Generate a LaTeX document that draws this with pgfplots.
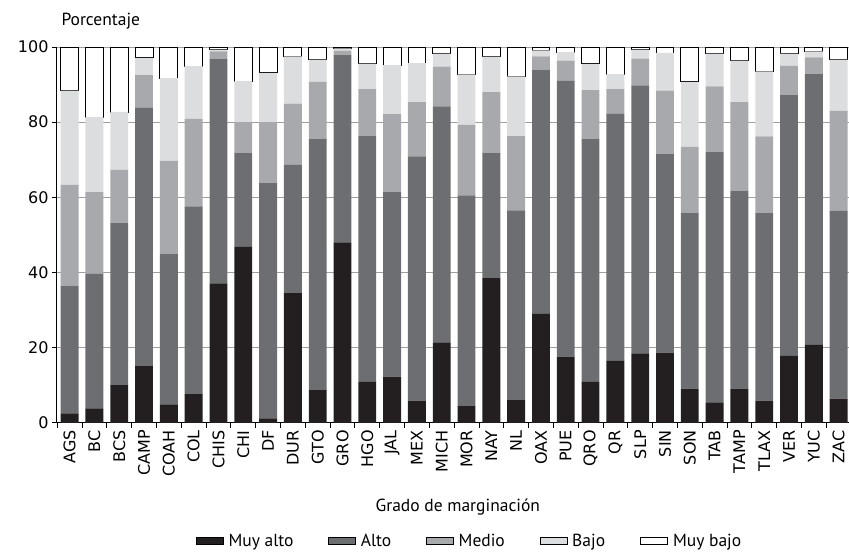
\documentclass[border=0pt]{standalone}
\usepackage{fontspec}
\setmainfont{PT Sans}
\newfontfamily\tickfont{DejaVu Sans}
\usepackage{pgfplots}
\usepackage{pgfplotstable}
\pgfplotsset{compat=1.18}
\definecolor{cMA}{HTML}{231F20}
\definecolor{cA}{HTML}{6D6E71}
\definecolor{cM}{HTML}{A7A9AC}
\definecolor{cB}{HTML}{DCDDDE}
\pgfplotstableread{
x MA A M B MB
0 2.5 34.0 26.8 25.1 11.6
1 3.8 35.8 21.8 19.9 18.7
2 10.0 43.1 14.2 15.4 17.3
3 15.1 68.7 8.7 4.6 2.9
4 4.9 40.1 24.7 22.0 8.3
5 7.6 50.0 23.3 14.0 5.1
6 37.1 59.8 1.9 0.5 0.7
7 46.8 25.1 8.1 10.9 9.1
8 1.2 62.6 16.2 13.1 6.9
9 34.5 34.1 16.3 12.6 2.5
10 8.7 66.9 15.1 5.9 3.4
11 48.0 49.8 1.2 0.6 0.4
12 10.9 65.5 12.4 6.8 4.4
13 12.3 49.1 20.7 13.1 4.8
14 5.9 65.0 14.4 10.4 4.3
15 21.4 62.8 10.6 3.4 1.8
16 4.4 56.1 18.8 13.4 7.3
17 38.5 33.4 16.1 9.4 2.6
18 6.0 50.5 19.8 15.9 7.8
19 29.0 65.0 3.5 1.6 0.9
20 17.6 73.4 5.4 2.2 1.4
21 10.9 64.7 12.9 7.0 4.5
22 16.5 65.7 6.6 4.0 7.2
23 18.5 71.3 7.1 2.4 0.7
24 18.7 52.8 16.9 10.0 1.6
25 9.1 46.8 17.5 17.3 9.3
26 5.4 66.6 17.5 8.7 1.8
27 9.1 52.7 23.5 11.1 3.6
28 5.9 50.0 20.3 17.3 6.5
29 17.8 69.5 7.7 3.2 1.8
30 20.7 72.2 4.3 1.6 1.2
31 6.4 50.0 26.6 13.6 3.4
}\datatable
\begin{document}
\begin{tikzpicture}
\pgfplotsset{leg/.style={legend image code/.code={\draw[##1] (0pt,-3.5pt) rectangle (27pt,3.5pt);}}}
\begin{axis}[
  name=ax,
  scale only axis,
  width=793pt, height=376pt,
  ybar stacked,
  bar width=0.72,
  xmin=-0.55, xmax=31.4,
  ymin=0, ymax=100,
  ytick={0,20,40,60,80,100},
  xtick={0,...,31},
  xticklabels={AGS,BC,BCS,CAMP,COAH,COL,CHIS,CHI,DF,DUR,GTO,GRO,HGO,JAL,MEX,MICH,MOR,NAY,NL,OAX,PUE,QRO,QR,SLP,SIN,SON,TAB,TAMP,TLAX,VER,YUC,ZAC},
  minor xtick={-0.5,0.5,...,31.5},
  major x tick style={draw=none},
  minor tick length=5pt,
  major tick length=4pt,
  tick align=outside,
  tick style={black, line width=0.8pt},
  axis x line*=bottom,
  axis y line*=left,
  axis line style={black, line width=0.9pt},
  ymajorgrids,
  grid style={gray!75, line width=0.8pt},
  /pgf/number format/assume math mode=true,
  tick label style={font=\tickfont\fontsize{16}{16}\selectfont},
  xticklabel style={rotate=90, anchor=east},
  xlabel={Grado de marginación},
  xlabel style={font=\fontsize{17.5}{20}\selectfont, at={(axis description cs:0.507,-0.223)}, anchor=center},
  legend columns=-1,
  legend style={draw=none, font=\fontsize{17.5}{20}\selectfont, at={(0.522,-0.314)}, anchor=center,
    /tikz/every odd column/.append style={column sep=3pt},
    /tikz/every even column/.append style={column sep=33pt}},
]
\addplot[leg, fill=cMA, draw=none] table[x=x, y=MA] {\datatable};
\addplot[leg, fill=cA, draw=none] table[x=x, y=A] {\datatable};
\addplot[leg, fill=cM, draw=none] table[x=x, y=M] {\datatable};
\addplot[leg, fill=cB, draw=none] table[x=x, y=B] {\datatable};
\addplot[leg, fill=white, draw=black, line width=0.9pt] table[x=x, y=MB] {\datatable};
\legend{Muy alto, Alto, Medio, Bajo, Muy bajo}
\end{axis}
\node[anchor=base west, font=\fontsize{17.5}{20}\selectfont] at ([xshift=2pt, yshift=21pt]ax.north west) {Porcentaje};
\path ([xshift=-56pt, yshift=-136pt]ax.south west) rectangle ([yshift=47pt]ax.north east);
\end{tikzpicture}
\end{document}
